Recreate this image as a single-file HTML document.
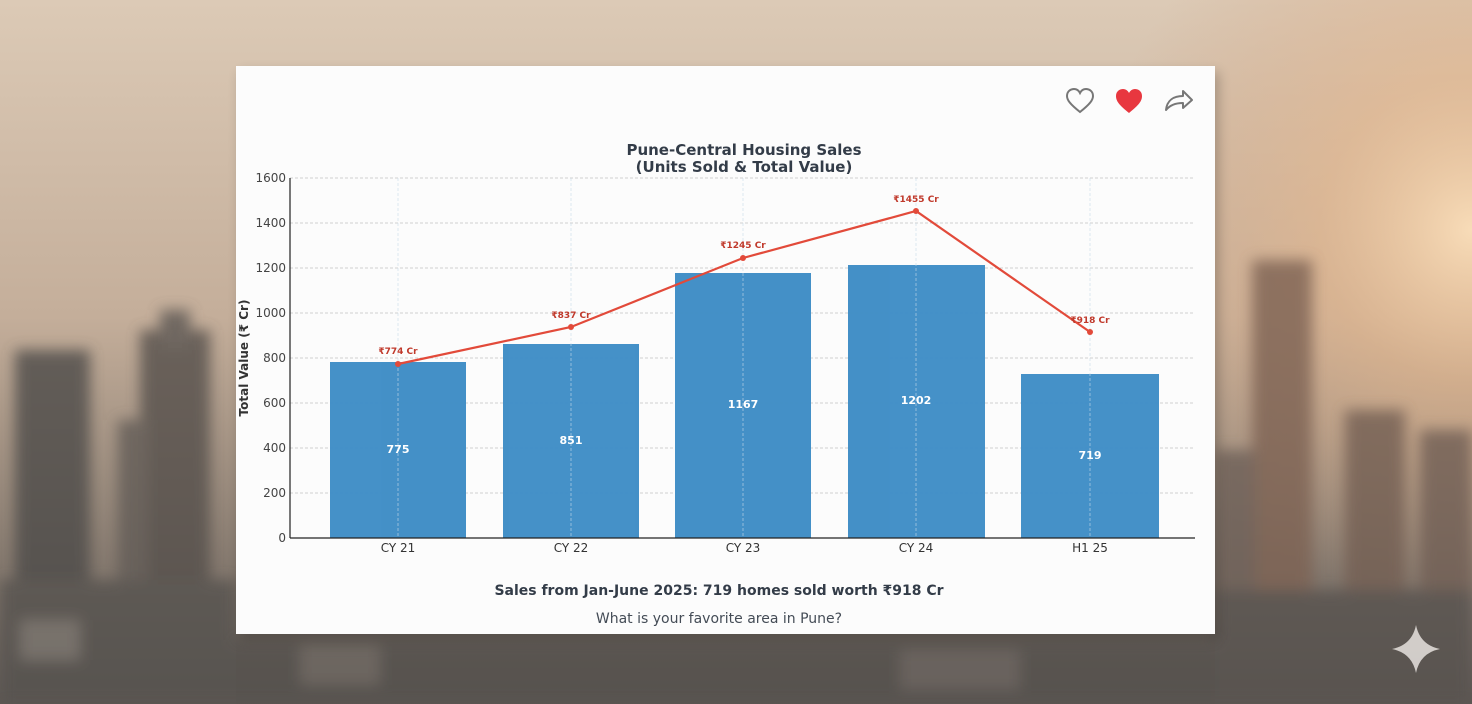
<!DOCTYPE html>
<html><head><meta charset="utf-8"><style>
html,body{margin:0;padding:0;width:1472px;height:704px;overflow:hidden}
</style></head><body>
<svg width="1472" height="704" viewBox="0 0 1472 704" xmlns="http://www.w3.org/2000/svg" font-family="'DejaVu Sans','Liberation Sans',sans-serif">
<defs>
<linearGradient id="sky" x1="0" y1="0" x2="0" y2="1">
<stop offset="0" stop-color="#dccab6"/><stop offset="0.45" stop-color="#c4ae9a"/><stop offset="0.72" stop-color="#948679"/><stop offset="1" stop-color="#5e5854"/>
</linearGradient>
<radialGradient id="glow" cx="1472" cy="230" r="380" gradientUnits="userSpaceOnUse">
<stop offset="0" stop-color="#f8dcb8"/><stop offset="0.4" stop-color="#e4b68c" stop-opacity="0.6"/><stop offset="1" stop-color="#d0a484" stop-opacity="0"/>
</radialGradient>
<filter id="b" x="-20%" y="-20%" width="140%" height="140%"><feGaussianBlur stdDeviation="7"/></filter>
<filter id="sh" x="-5%" y="-5%" width="110%" height="110%"><feGaussianBlur stdDeviation="6"/></filter>
</defs>
<rect width="1472" height="704" fill="url(#sky)"/>
<rect width="1472" height="704" fill="url(#glow)"/>
<g filter="url(#b)" opacity="0.8">
<rect x="15" y="350" width="75" height="354" fill="#4e4b48"/>
<rect x="140" y="330" width="70" height="374" fill="#54504c"/>
<rect x="160" y="310" width="30" height="40" fill="#5c5752"/>
<rect x="118" y="420" width="30" height="284" fill="#625c57"/>
<rect x="0" y="580" width="236" height="124" fill="#56524f"/>
<rect x="20" y="620" width="60" height="40" fill="#7a746e"/>
<rect x="1252" y="260" width="60" height="444" fill="#7d6252"/>
<rect x="1345" y="410" width="60" height="294" fill="#735e52"/>
<rect x="1420" y="430" width="52" height="274" fill="#715e54"/>
<rect x="1215" y="450" width="40" height="254" fill="#6e6058"/>
<rect x="1215" y="590" width="257" height="114" fill="#58534f"/>
<rect x="236" y="640" width="979" height="64" fill="#55514e"/>
<rect x="300" y="645" width="80" height="40" fill="#6e6862"/>
<rect x="900" y="650" width="120" height="40" fill="#6a645f"/>
</g>
<rect x="240" y="72" width="979" height="568" fill="#000" opacity="0.22" filter="url(#sh)"/>
<rect x="236" y="66" width="979" height="568" fill="#fcfcfc"/>
<path d="M1080 112 C1070 104 1067 100 1067 96 C1067 91 1071 89 1074 89 C1077 89 1079 91 1080 93 C1081 91 1083 89 1086 89 C1089 89 1093 91 1093 96 C1093 100 1090 104 1080 112 Z" fill="none" stroke="#777" stroke-width="2"/>
<path d="M1129 113 C1119 105 1116 101 1116 96 C1116 91 1120 89 1123 89 C1126 89 1128 91 1129 93 C1130 91 1132 89 1135 89 C1138 89 1142 91 1142 96 C1142 101 1139 105 1129 113 Z" fill="#e8373f"/>
<path d="M1166 110 C1167 100 1174 96 1183 96 L1183 91 L1192 100 L1183 108 L1183 103 C1176 103 1170 105 1166 110 Z" fill="none" stroke="#777" stroke-width="2" stroke-linejoin="round"/>
<text x="744" y="155" text-anchor="middle" font-size="15" font-weight="bold" fill="#333c48">Pune-Central Housing Sales</text>
<text x="744" y="172" text-anchor="middle" font-size="15" font-weight="bold" fill="#333c48">(Units Sold &amp; Total Value)</text>
<g stroke="#cfcfcf" stroke-width="1" stroke-dasharray="3,2">
<line x1="290" y1="178" x2="1195" y2="178"/><line x1="290" y1="223" x2="1195" y2="223"/><line x1="290" y1="268" x2="1195" y2="268"/><line x1="290" y1="313" x2="1195" y2="313"/><line x1="290" y1="358" x2="1195" y2="358"/><line x1="290" y1="403" x2="1195" y2="403"/><line x1="290" y1="448" x2="1195" y2="448"/><line x1="290" y1="493" x2="1195" y2="493"/>
</g>
<g fill="#3f8dc6" opacity="0.97">
<rect x="330" y="362" width="136" height="176"/>
<rect x="503" y="344" width="136" height="194"/>
<rect x="675" y="273" width="136" height="265"/>
<rect x="848" y="265" width="137" height="273"/>
<rect x="1021" y="374" width="138" height="164"/>
</g>
<g stroke="#c9dbe9" stroke-width="1" stroke-dasharray="3,2" opacity="0.6">
<line x1="398" y1="178" x2="398" y2="538"/><line x1="571" y1="178" x2="571" y2="538"/><line x1="743" y1="178" x2="743" y2="538"/><line x1="916" y1="178" x2="916" y2="538"/><line x1="1090" y1="178" x2="1090" y2="538"/>
</g>
<g stroke="#222" stroke-width="1.2"><line x1="290" y1="178" x2="290" y2="538"/><line x1="290" y1="538" x2="1195" y2="538"/></g>
<g font-size="12" fill="#444" text-anchor="end">
<text x="286" y="182">1600</text><text x="286" y="227">1400</text><text x="286" y="272">1200</text><text x="286" y="317">1000</text><text x="286" y="362">800</text><text x="286" y="407">600</text><text x="286" y="452">400</text><text x="286" y="497">200</text><text x="286" y="542">0</text>
</g>
<text transform="translate(248,358) rotate(-90)" text-anchor="middle" font-size="12" font-weight="bold" fill="#333">Total Value (₹ Cr)</text>
<g font-size="12" fill="#333" text-anchor="middle">
<text x="398" y="552">CY 21</text><text x="571" y="552">CY 22</text><text x="743" y="552">CY 23</text><text x="916" y="552">CY 24</text><text x="1090" y="552">H1 25</text>
</g>
<g font-size="11" font-weight="bold" fill="#fff" text-anchor="middle">
<text x="398" y="453">775</text><text x="571" y="444">851</text><text x="743" y="408">1167</text><text x="916" y="404">1202</text><text x="1090" y="459">719</text>
</g>
<polyline points="398,364 571,327 743,258 916,211 1090,332" fill="none" stroke="#e24a3a" stroke-width="2.2"/>
<g fill="#e24a3a"><circle cx="398" cy="364" r="3"/><circle cx="571" cy="327" r="3"/><circle cx="743" cy="258" r="3"/><circle cx="916" cy="211" r="3"/><circle cx="1090" cy="332" r="3"/></g>
<g font-size="9" font-weight="bold" fill="#c0392b" text-anchor="middle">
<text x="398" y="354">₹774 Cr</text><text x="571" y="318">₹837 Cr</text><text x="743" y="248">₹1245 Cr</text><text x="916" y="202">₹1455 Cr</text><text x="1090" y="323">₹918 Cr</text>
</g>
<text x="719" y="595" text-anchor="middle" font-size="14" font-weight="bold" fill="#333c48">Sales from Jan-June 2025: 719 homes sold worth ₹918 Cr</text>
<text x="719" y="623" text-anchor="middle" font-size="14" fill="#444c56">What is your favorite area in Pune?</text>
<path d="M1416 625 Q1420 645 1440 649 Q1420 653 1416 673 Q1412 653 1392 649 Q1412 645 1416 625 Z" fill="#e6e2de" opacity="0.85"/>
</svg>
</body></html>
